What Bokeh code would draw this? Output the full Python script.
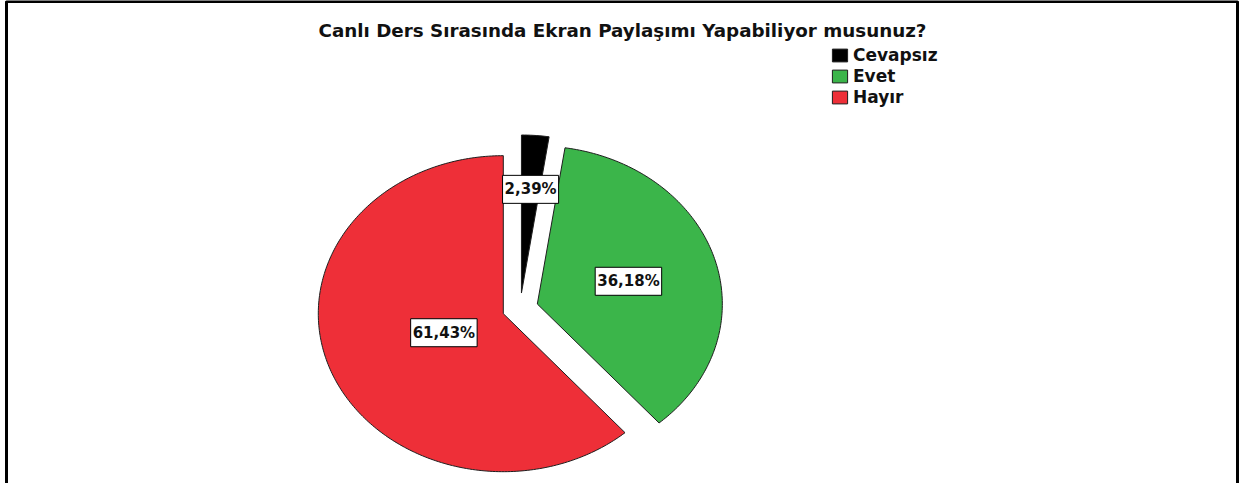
import numpy as np
from bokeh.plotting import figure
from bokeh.models import ColumnDataSource, Label, Legend, LegendItem, Range1d
from bokeh.embed import file_html
from bokeh.resources import INLINE

# ---- data ----
title_text = "Canlı Ders Sırasında Ekran Paylaşımı Yapabiliyor musunuz?"
categories = ["Cevapsız", "Evet", "Hayır"]
percents = [2.39, 36.18, 61.43]
colors = ["#000000", "#3bb54a", "#ee2f38"]

# ---- layout ----
W, H = 1240, 483
PX, PY = 185.0, 158.0          # pixels per data unit (pie is an ellipse)
CX, CY = 519.6, 307.8          # pie centre in frame pixels (from left / from top)
EXPLODE = 0.097
LABEL_R = [0.755, 0.61, 0.44]
FONT = "DejaVu Sans"

x0 = -CX / PX
x1 = x0 + W / PX
y1 = CY / PY
y0 = y1 - H / PY

fr = np.array(percents) / sum(percents)
ends = np.cumsum(fr) * 2 * np.pi
starts = ends - fr * 2 * np.pi

xs, ys, lx, ly, texts = [], [], [], [], []
for i, (s, e) in enumerate(zip(starts, ends)):
    mid = (s + e) / 2
    ox, oy = EXPLODE * np.sin(mid), EXPLODE * np.cos(mid)
    t = np.linspace(s, e, max(10, int(400 * (e - s) / (2 * np.pi))))
    xs.append([ox] + list(ox + np.sin(t)))
    ys.append([oy] + list(oy + np.cos(t)))
    lx.append(LABEL_R[i] * np.sin(mid))
    ly.append(LABEL_R[i] * np.cos(mid))
    texts.append(f"{percents[i]:.2f}".replace(".", ",") + "%")

src = ColumnDataSource(dict(xs=xs, ys=ys, color=colors, cat=categories))

p = figure(width=W, height=H, x_range=Range1d(x0, x1), y_range=Range1d(y0, y1),
           output_backend="svg", toolbar_location=None, min_border=0,
           title=None, outline_line_color=None, background_fill_color="white",
           border_fill_color="white")
p.axis.visible = False
p.grid.visible = False

r = p.patches("xs", "ys", source=src, fill_color="color", line_color="#1e1e1e",
              line_width=1)

# frame border (left, top, right) at pixel positions
bl = (6 - CX) / PX
br = (1237 - CX) / PX
bt = (CY - 1) / PY
p.line([bl, bl, br, br], [y0 - 1, bt, bt, y0 - 1], line_width=3, line_color="black")

for x, y, t in zip(lx, ly, texts):
    p.add_layout(Label(x=x, y=y, text=t, text_align="center", text_baseline="middle",
                       text_font=FONT, text_font_style="bold", text_font_size="15px",
                       text_color="#111111", background_fill_color="white",
                       border_line_color="black", border_line_width=1,
                       padding=dict(left=2, right=2, top=5, bottom=5)))

p.add_layout(Label(x=622, y=H - 30, x_units="screen", y_units="screen", text=title_text,
                   text_align="center", text_baseline="middle", text_font=FONT,
                   text_font_style="bold", text_font_size="18.3px", text_color="#111111"))

legend = Legend(items=[LegendItem(label=c, renderers=[r], index=i)
                       for i, c in enumerate(categories)],
                location=(830, H - 107), padding=0, margin=0, spacing=1,
                glyph_width=19, glyph_height=16, label_height=16, label_standoff=4,
                label_text_font=FONT, label_text_font_style="bold",
                label_text_font_size="17px", label_text_color="#111111",
                border_line_color=None, background_fill_alpha=0)
p.add_layout(legend)

open("out.html", "w").write(file_html(p, INLINE))
